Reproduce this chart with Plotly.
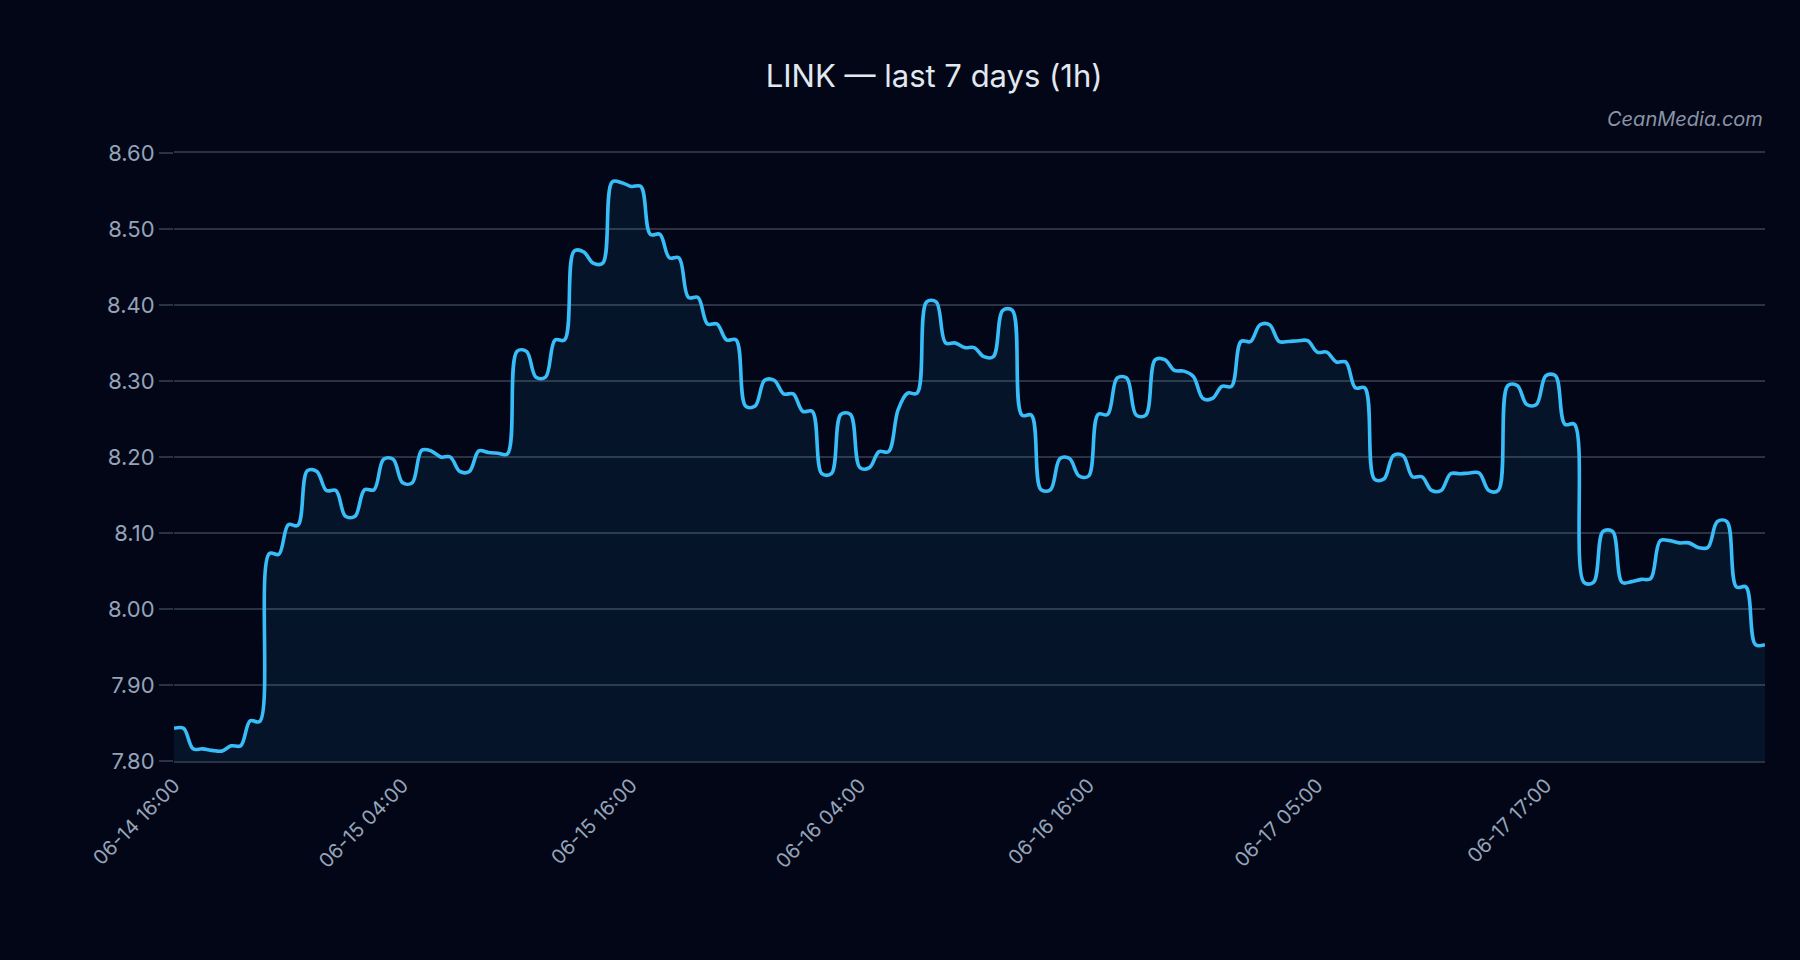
import numpy as np
import plotly.graph_objects as go

# LINK price, sampled every 30 minutes (hours since 06-14 16:00)
price = [
    7.843, 7.843, 7.816, 7.816, 7.814, 7.813, 7.820, 7.820, 7.853, 7.852, 8.073, 8.072,
    8.111, 8.110, 8.182, 8.181, 8.156, 8.156, 8.122, 8.122, 8.157, 8.157, 8.197, 8.197,
    8.166, 8.166, 8.209, 8.208, 8.200, 8.200, 8.181, 8.181, 8.208, 8.206, 8.205, 8.204,
    8.339, 8.339, 8.305, 8.305, 8.354, 8.354, 8.471, 8.470, 8.455, 8.455, 8.562, 8.561,
    8.556, 8.556, 8.493, 8.493, 8.462, 8.462, 8.410, 8.410, 8.375, 8.375, 8.354, 8.354,
    8.267, 8.267, 8.301, 8.301, 8.283, 8.283, 8.260, 8.260, 8.178, 8.178, 8.256, 8.256,
    8.186, 8.186, 8.207, 8.207, 8.262, 8.284, 8.284, 8.404, 8.404, 8.350, 8.350, 8.344,
    8.344, 8.332, 8.332, 8.393, 8.393, 8.255, 8.255, 8.157, 8.157, 8.198, 8.198, 8.175,
    8.175, 8.256, 8.256, 8.304, 8.304, 8.255, 8.255, 8.328, 8.328, 8.314, 8.313, 8.306,
    8.277, 8.277, 8.293, 8.293, 8.352, 8.352, 8.374, 8.374, 8.352, 8.352, 8.353, 8.353,
    8.338, 8.338, 8.325, 8.325, 8.291, 8.291, 8.171, 8.171, 8.202, 8.202, 8.174, 8.174,
    8.156, 8.156, 8.178, 8.178, 8.179, 8.179, 8.156, 8.156, 8.294, 8.294, 8.269, 8.269,
    8.307, 8.307, 8.243, 8.243, 8.035, 8.035, 8.102, 8.102, 8.035, 8.036, 8.039, 8.040,
    8.090, 8.090, 8.087, 8.087, 8.081, 8.081, 8.115, 8.115, 8.029, 8.029, 7.953, 7.953,
]

tick_labels = [
    "06-14 16:00", "06-15 04:00", "06-15 16:00", "06-16 04:00",
    "06-16 16:00", "06-17 05:00", "06-17 17:00",
]
label_every_hours = 12
sample_step_hours = 0.5

hours = np.arange(len(price)) * sample_step_hours
tick_hours = [i * label_every_hours for i in range(len(tick_labels))]

BG = "#020617"
GRID = "#2a3343"
TICKC = "#94a3b8"
FONT = "Inter, Roboto, Arial, sans-serif"

fig = go.Figure()
fig.add_trace(go.Scatter(
    x=hours, y=price, mode="lines",
    line=dict(color="#38bdf8", width=3.6, shape="spline", smoothing=1),
    fill="tozeroy", fillcolor="rgba(56,189,248,0.08)",
    hoverinfo="skip", showlegend=False,
))

fig.update_layout(
    width=1800, height=960,
    paper_bgcolor=BG, plot_bgcolor=BG,
    margin=dict(l=174, r=35, t=153, b=199),
    font=dict(family=FONT, color=TICKC, size=20),
    title=dict(
        text="LINK — last 7 days (1h)",
        x=0.519, xref="container", xanchor="center",
        y=1 - 76 / 960, yref="container", yanchor="middle",
        font=dict(family=FONT, size=31, color="#e2e8f0"),
    ),
    xaxis=dict(
        range=[hours[0], hours[-1]],
        tickmode="array", tickvals=tick_hours, ticktext=tick_labels,
        tickangle=-45, showgrid=False, zeroline=False,
        showline=True, mirror=True, linecolor=GRID, linewidth=1.5,
        ticks="outside", ticklen=3, tickcolor=BG,
        tickfont=dict(size=20, color=TICKC),
    ),
    yaxis=dict(
        range=[7.8, 8.6], dtick=0.1, tickformat=".2f",
        showgrid=True, gridcolor=GRID, gridwidth=1.5, zeroline=False,
        ticks="outside", ticklen=14, tickcolor=GRID, tickwidth=1.5,
        tickfont=dict(size=22, color=TICKC),
    ),
    annotations=[dict(
        text="CeanMedia.com", xref="paper", yref="paper",
        x=1, y=1 + (152.7 - 119) / 608.5, xanchor="right", yanchor="middle",
        showarrow=False,
        font=dict(family=FONT, size=20, color="#8a94a6", style="italic"),
    )],
)

fig.write_html("out.html")
